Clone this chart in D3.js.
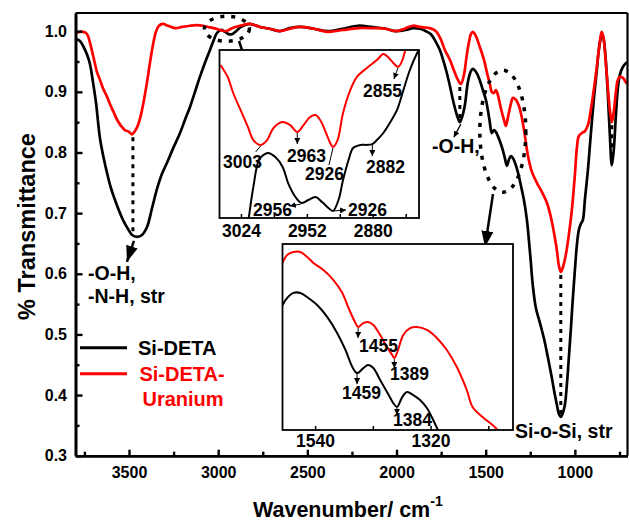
<!DOCTYPE html>
<html>
<head>
<meta charset="utf-8">
<script src="https://cdn.jsdelivr.net/npm/d3@7"></script>
<style>
  body { margin: 0; background: #fff; }
  svg { display: block; }
  text { font-family: "Liberation Sans", Arial, sans-serif; font-weight: bold; fill: #000; }
</style>
</head>
<body>
<svg id="chart" width="629" height="522"></svg>
<script>
// ---------- FTIR spectra (wavenumber in cm-1, transmittance) ----------
const detaWave = [3797,3775,3758,3736,3719,3702,3685,3663,3640,3623,3601,3579,3556,3534,3506,3483,3455,3427,3399,3371,3343,3315,3287,3254,3214,3186,3158,3130,3102,3074,3046,3024,3007,2984,2962,2940,2923,2900,2872,2822,2766,2710,2654,2598,2542,2463,2385,2301,2217,2138,2060,2004,1948,1908,1869,1835,1807,1779,1757,1735,1718,1701,1684,1667,1656,1645,1634,1617,1600,1583,1572,1555,1538,1516,1499,1488,1477,1466,1454,1443,1432,1421,1404,1393,1381,1370,1359,1348,1337,1320,1303,1286,1269,1258,1247,1236,1219,1196,1174,1152,1129,1112,1101,1090,1079,1068,1056,1045,1034,1023,1012,1000,989,978,967,955,944,927,911,894,877,866,855,849,838,827,815,804,793,782,770,759,748,731,709];
const detaT = [0.987,0.984,0.976,0.962,0.946,0.916,0.882,0.824,0.788,0.766,0.741,0.722,0.704,0.689,0.674,0.664,0.661,0.664,0.677,0.708,0.740,0.765,0.783,0.806,0.832,0.854,0.875,0.900,0.925,0.948,0.969,0.986,0.997,1.002,0.999,0.995,0.995,1.000,1.007,1.012,1.007,1.004,1.000,1.005,1.007,1.004,1.000,1.004,1.009,1.007,1.004,1.000,1.002,1.005,1.004,1.000,0.995,0.982,0.969,0.949,0.931,0.910,0.887,0.867,0.857,0.850,0.857,0.878,0.916,0.934,0.938,0.933,0.923,0.903,0.887,0.870,0.850,0.832,0.837,0.834,0.827,0.819,0.804,0.791,0.778,0.788,0.794,0.791,0.784,0.768,0.746,0.722,0.689,0.656,0.619,0.581,0.544,0.519,0.494,0.463,0.428,0.400,0.384,0.369,0.364,0.370,0.384,0.417,0.461,0.507,0.557,0.606,0.647,0.672,0.682,0.689,0.722,0.771,0.829,0.887,0.936,0.969,0.989,0.997,0.986,0.953,0.895,0.829,0.779,0.804,0.862,0.906,0.928,0.941,0.949];

const uranWave = [3797,3775,3758,3741,3730,3713,3696,3680,3663,3646,3623,3607,3584,3567,3545,3523,3500,3483,3467,3450,3433,3416,3399,3382,3366,3349,3332,3310,3282,3242,3203,3158,3119,3085,3057,3024,2990,2956,2923,2878,2822,2766,2710,2654,2598,2542,2463,2385,2301,2217,2138,2060,2004,1948,1908,1869,1813,1779,1751,1729,1701,1679,1656,1639,1622,1606,1594,1583,1572,1555,1533,1510,1494,1477,1466,1454,1443,1432,1415,1398,1387,1376,1359,1348,1331,1314,1297,1281,1264,1241,1213,1185,1157,1135,1118,1101,1090,1079,1068,1051,1034,1017,1000,989,978,961,944,927,911,894,877,866,855,849,838,827,815,804,793,782,770,759,748,731,709];
const uranT = [0.997,0.999,0.999,0.997,0.992,0.974,0.953,0.933,0.920,0.906,0.892,0.880,0.865,0.854,0.844,0.837,0.834,0.830,0.835,0.845,0.862,0.887,0.916,0.949,0.977,0.999,1.009,1.012,1.009,1.005,1.007,1.009,1.010,1.009,1.007,1.005,1.002,1.000,1.005,1.009,1.012,1.007,1.004,1.000,1.004,1.007,1.004,0.999,1.002,1.005,1.005,1.004,1.000,1.005,1.009,1.007,1.005,1.000,0.986,0.969,0.953,0.936,0.920,0.913,0.928,0.961,0.982,0.995,0.999,0.992,0.974,0.953,0.933,0.913,0.900,0.898,0.903,0.895,0.873,0.854,0.844,0.857,0.880,0.890,0.887,0.877,0.857,0.829,0.796,0.768,0.750,0.735,0.717,0.694,0.669,0.639,0.614,0.603,0.610,0.631,0.664,0.705,0.763,0.807,0.827,0.832,0.835,0.845,0.870,0.903,0.941,0.969,0.992,0.999,0.986,0.949,0.906,0.870,0.850,0.867,0.900,0.920,0.925,0.923,0.913];

// C-H stretching region (scaled transmittance, 0 = bottom of panel, 1 = top)
const chUranWave = [3047,3039,3033,3025,3017,3011,3003,2996,2989,2979,2971,2963,2956,2949,2943,2938,2932,2927,2924,2919,2913,2905,2898,2887,2876,2869,2864,2858,2853,2849,2845];
const chUranT = [0.911,0.839,0.744,0.643,0.542,0.464,0.435,0.464,0.536,0.571,0.554,0.512,0.554,0.601,0.613,0.583,0.512,0.446,0.423,0.464,0.625,0.762,0.839,0.893,0.940,0.976,0.958,0.923,0.899,0.929,1.0];
const chDetaWave = [3016,3011,3005,3000,2995,2987,2979,2973,2965,2958,2951,2943,2936,2929,2924,2918,2913,2907,2902,2894,2887,2881,2876,2869,2862,2854,2847,2840,2832,2830];
const chDetaT = [0,0.185,0.345,0.375,0.387,0.363,0.304,0.208,0.125,0.089,0.107,0.125,0.095,0.060,0.042,0.107,0.226,0.345,0.417,0.435,0.435,0.440,0.464,0.506,0.565,0.643,0.762,0.881,0.982,1.0];

// C-H bending region (scaled transmittance)
const bendUranWave = [1603,1594,1582,1569,1556,1544,1525,1506,1489,1478,1464,1459,1449,1440,1430,1417,1404,1394,1390,1383,1373,1360,1347,1328,1309,1290,1271,1252,1241,1222,1203,1193];
const bendUranT = [0.898,0.941,0.957,0.957,0.930,0.898,0.860,0.806,0.737,0.661,0.575,0.554,0.575,0.581,0.565,0.511,0.446,0.403,0.387,0.430,0.511,0.548,0.554,0.538,0.495,0.430,0.339,0.215,0.124,0.070,0.027,0];
const bendDetaWave = [1603,1594,1582,1569,1554,1537,1518,1499,1483,1470,1461,1449,1440,1430,1417,1404,1392,1385,1375,1366,1354,1341,1328,1316,1307];
const bendDetaT = [0.672,0.710,0.737,0.737,0.710,0.672,0.608,0.522,0.430,0.339,0.306,0.333,0.349,0.333,0.269,0.204,0.145,0.124,0.177,0.204,0.188,0.161,0.118,0.054,0];

// ---------- ticks and labels ----------
const xTicks = [3500, 3000, 2500, 2000, 1500, 1000];
const xMinorTicks = [3750, 3250, 2750, 2250, 1750, 1250, 750];
const yTicks = [0.3, 0.4, 0.5, 0.6, 0.7, 0.8, 0.9, 1.0];
const yMinorTicks = [0.35, 0.45, 0.55, 0.65, 0.75, 0.85, 0.95];
const chTicks = [3024, 2952, 2880];
const chMinorTicks = [2988, 2916, 2844];
const bendTicks = [1540, 1320];
const bendMinorTicks = [1430, 1210];
const markedBands = [3478, 1645, 1079, 793];
const seriesNames = ["Si-DETA", "Si-DETA-", "Uranium"];

const RED = "#ff0000";
const svg = d3.select("#chart");

const x = d3.scaleLinear().domain([3800, 705]).range([75.5, 627.5]);
const y = d3.scaleLinear().domain([0.3, 1.03]).range([455.7, 13]);

const zip = (w, t) => w.map((d, i) => [d, t[i]]);
const deta = zip(detaWave, detaT);
const uran = zip(uranWave, uranT);

// arrowhead markers
const defs = svg.append("defs");
function marker(id, len, half) {
  defs.append("marker").attr("id", id)
    .attr("markerUnits", "userSpaceOnUse")
    .attr("viewBox", `${-len} ${-half} ${len} ${half * 2}`)
    .attr("markerWidth", len).attr("markerHeight", half * 2)
    .attr("refX", 0).attr("refY", 0).attr("orient", "auto")
    .append("path").attr("d", `M0,0L${-len},${-half}L${-len},${half}Z`).attr("fill", "#000");
}
marker("bigHead", 16, 6);
marker("smallHead", 6, 3);

// ---------- main panel ----------
const main = svg.append("g");
const mainLine = d3.line().x(d => x(d[0])).y(d => y(d[1])).curve(d3.curveCatmullRom.alpha(0.5));

main.append("path").datum(deta).attr("d", mainLine)
  .attr("fill", "none").attr("stroke", "#000").attr("stroke-width", 2.7).attr("stroke-linejoin", "round");
main.append("path").datum(uran).attr("d", mainLine)
  .attr("fill", "none").attr("stroke", RED).attr("stroke-width", 2.7).attr("stroke-linejoin", "round");

// dotted guides joining matching bands of both spectra
function bandMin(series, w) {
  const near = series.filter(d => Math.abs(d[0] - w) <= 30);
  return d3.min(near, d => d[1]);
}
markedBands.forEach(w => {
  main.append("line")
    .attr("x1", x(w)).attr("x2", x(w))
    .attr("y1", y(bandMin(uran, w)) + 3).attr("y2", y(bandMin(deta, w)) - 2)
    .attr("stroke", "#000").attr("stroke-width", 3).attr("stroke-dasharray", "4 5");
});

// axes
const axisBottom = d3.axisBottom(x).tickValues(xTicks).tickSize(-6).tickSizeOuter(0).tickPadding(11).tickFormat(d3.format("d"));
const axisBottomMinor = d3.axisBottom(x).tickValues(xMinorTicks).tickSize(-4).tickSizeOuter(0).tickFormat("");
const axisLeft = d3.axisLeft(y).tickValues(yTicks).tickSize(-7).tickSizeOuter(0).tickPadding(8.5).tickFormat(d3.format(".1f"));
const axisLeftMinor = d3.axisLeft(y).tickValues(yMinorTicks).tickSize(-4).tickSizeOuter(0).tickFormat("");

function styleAxis(g) {
  g.selectAll("path.domain").attr("stroke", "#000").attr("stroke-width", 2.6);
  g.selectAll(".tick line").attr("stroke", "#000").attr("stroke-width", 2.4);
  g.selectAll(".tick text").attr("font-size", 16).attr("font-family", null).attr("fill", "#000");
}
main.append("g").attr("transform", `translate(0,${y.range()[0]})`).call(axisBottomMinor).call(styleAxis);
main.append("g").attr("transform", `translate(0,${y.range()[0]})`).call(axisBottom).call(styleAxis);
main.append("g").attr("transform", `translate(${x.range()[0]},0)`).call(axisLeftMinor).call(styleAxis);
main.append("g").attr("transform", `translate(${x.range()[0]},0)`).call(axisLeft).call(styleAxis);

// top and right frame
main.append("line").attr("x1", x.range()[0]).attr("x2", x.range()[1]).attr("y1", y.range()[1]).attr("y2", y.range()[1])
  .attr("stroke", "#000").attr("stroke-width", 2.2);
main.append("line").attr("x1", x.range()[1]).attr("x2", x.range()[1]).attr("y1", y.range()[1]).attr("y2", y.range()[0])
  .attr("stroke", "#000").attr("stroke-width", 2.2);

// axis titles
svg.append("text").attr("transform", "translate(35,226.5) rotate(-90)")
  .attr("text-anchor", "middle").attr("font-size", 23.5).text("% Transmittance");
const xt = svg.append("text").attr("x", 253).attr("y", 517).attr("font-size", 21.5).text("Wavenumber/ cm");
xt.append("tspan").attr("dy", -11).attr("font-size", 14).text("-1");

// band annotations
const ann = svg.append("g").attr("font-size", 19.5);
const x3478 = x(markedBands[0]), yOH = y(bandMin(deta, markedBands[0]));
ann.append("line").attr("x1", x3478 + 1).attr("y1", yOH + 4).attr("x2", x3478 - 6).attr("y2", yOH + 25)
  .attr("stroke", "#000").attr("stroke-width", 2.5).attr("marker-end", "url(#bigHead)");
ann.append("text").attr("x", 88).attr("y", 280).text("-O-H,");
ann.append("text").attr("x", 88).attr("y", 303).text("-N-H, str");

const x1645 = x(markedBands[1]), y1645 = y(bandMin(deta, markedBands[1]));
ann.append("line").attr("x1", x1645 + 1).attr("y1", y1645 + 2).attr("x2", x1645 - 6).attr("y2", y1645 + 15)
  .attr("stroke", "#000").attr("stroke-width", 1.2).attr("marker-end", "url(#smallHead)");
ann.append("text").attr("x", 432).attr("y", 153).text("-O-H,");
ann.append("text").attr("x", 515).attr("y", 438).text("Si-o-Si, str");

// dotted ellipses with pointers to the zoomed panels
function dottedEllipse(cx, cy, rx, ry) {
  ann.append("ellipse").attr("cx", cx).attr("cy", cy).attr("rx", rx).attr("ry", ry)
    .attr("fill", "none").attr("stroke", "#000").attr("stroke-width", 3.5).attr("stroke-dasharray", "4 7");
}
dottedEllipse(x(2951), y(1.004), 22.5, 12.5);
ann.append("line").attr("x1", 239).attr("y1", 41).attr("x2", 252).attr("y2", 80)
  .attr("stroke", "#000").attr("stroke-width", 2.5).attr("marker-end", "url(#bigHead)");
dottedEllipse(x(1404), y(0.835), 23, 61);
ann.append("line").attr("x1", 493).attr("y1", 194).attr("x2", 485).attr("y2", 247)
  .attr("stroke", "#000").attr("stroke-width", 2.5).attr("marker-end", "url(#bigHead)");

// legend
const lg = svg.append("g");
lg.append("line").attr("x1", 80).attr("x2", 127).attr("y1", 347.7).attr("y2", 347.7).attr("stroke", "#000").attr("stroke-width", 3);
lg.append("line").attr("x1", 80).attr("x2", 127).attr("y1", 373.7).attr("y2", 373.7).attr("stroke", RED).attr("stroke-width", 3);
lg.append("text").attr("x", 138).attr("y", 355).attr("font-size", 20).text(seriesNames[0]);
lg.append("text").attr("x", 182).attr("y", 381).attr("text-anchor", "middle").attr("font-size", 20).style("fill", RED).text(seriesNames[1]);
lg.append("text").attr("x", 183).attr("y", 406).attr("text-anchor", "middle").attr("font-size", 20).style("fill", RED).text(seriesNames[2]);

// ---------- zoomed panels ----------
function panel(id, xs, ys, ticks, minor, labelY, curves) {
  const [x0, x1] = xs.range();
  const [yb, yt] = ys.range();
  const g = svg.append("g");
  g.append("rect").attr("x", x0).attr("y", yt).attr("width", x1 - x0).attr("height", yb - yt).attr("fill", "#fff");
  defs.append("clipPath").attr("id", id).append("rect").attr("x", x0).attr("y", yt).attr("width", x1 - x0).attr("height", yb - yt);
  const line = d3.line().x(d => xs(d[0])).y(d => ys(d[1])).curve(d3.curveCatmullRom.alpha(0.5));
  const cg = g.append("g").attr("clip-path", `url(#${id})`);
  curves.forEach(c => cg.append("path").datum(c.data).attr("d", line)
    .attr("fill", "none").attr("stroke", c.color).attr("stroke-width", 2).attr("stroke-linejoin", "round"));
  g.append("rect").attr("x", x0).attr("y", yt).attr("width", x1 - x0).attr("height", yb - yt)
    .attr("fill", "none").attr("stroke", "#000").attr("stroke-width", 1.8);
  ticks.concat(minor).forEach(t => g.append("line").attr("x1", xs(t)).attr("x2", xs(t)).attr("y1", yb).attr("y2", yb - 4)
    .attr("stroke", "#000").attr("stroke-width", 1.5));
  ticks.forEach(t => g.append("text").attr("x", xs(t)).attr("y", labelY).attr("text-anchor", "middle")
    .attr("font-size", 17.5).text(t));
  return g;
}

const xCH = d3.scaleLinear().domain([3048, 2830]).range([219.5, 419]);
const yCH = d3.scaleLinear().domain([0, 1]).range([218, 50]);
const chPanel = panel("clipCH", xCH, yCH, chTicks, chMinorTicks, 237, [
  { data: zip(chDetaWave, chDetaT), color: "#000" },
  { data: zip(chUranWave, chUranT), color: RED }
]);

const xB = d3.scaleLinear().domain([1603, 1164]).range([282.5, 513]);
const yB = d3.scaleLinear().domain([0, 1]).range([430, 244]);
const bPanel = panel("clipB", xB, yB, bendTicks, bendMinorTicks, 447, [
  { data: zip(bendDetaWave, bendDetaT), color: "#000" },
  { data: zip(bendUranWave, bendUranT), color: RED }
]);

// peak labels inside the zoomed panels
function pointer(g, x1, y1, x2, y2, head) {
  const l = g.append("line").attr("x1", x1).attr("y1", y1).attr("x2", x2).attr("y2", y2)
    .attr("stroke", "#000").attr("stroke-width", 1);
  if (head) l.attr("marker-end", "url(#smallHead)");
}
function label(g, tx, ty, s) {
  g.append("text").attr("x", tx).attr("y", ty).attr("font-size", 17.5).text(s);
}
const valAt = (w, t, k) => t[w.indexOf(k)];

// C-H stretching labels
pointer(chPanel, xCH(3003) - 5, yCH(valAt(chUranWave, chUranT, 3003)) + 7, xCH(3003), yCH(valAt(chUranWave, chUranT, 3003)) + 1, false);
label(chPanel, 223, 168, "3003");
pointer(chPanel, xCH(2963), yCH(valAt(chUranWave, chUranT, 2963)) + 1, xCH(2963), yCH(valAt(chUranWave, chUranT, 2963)) + 12, true);
label(chPanel, 287, 162, "2963");
pointer(chPanel, xCH(2924), yCH(valAt(chUranWave, chUranT, 2924)) + 1, xCH(2924) - 4, yCH(valAt(chUranWave, chUranT, 2924)) + 18, false);
label(chPanel, 305, 180, "2926");
pointer(chPanel, xCH(2853), yCH(valAt(chUranWave, chUranT, 2853)) + 1, xCH(2853) - 4, yCH(valAt(chUranWave, chUranT, 2853)) + 12, true);
label(chPanel, 363, 97, "2855");
pointer(chPanel, xCH(2881), yCH(valAt(chDetaWave, chDetaT, 2881)) + 1, xCH(2881), yCH(valAt(chDetaWave, chDetaT, 2881)) + 12, true);
label(chPanel, 366, 173, "2882");
pointer(chPanel, xCH(2958) - 1, yCH(valAt(chDetaWave, chDetaT, 2958)) + 1, xCH(2958) - 12, yCH(valAt(chDetaWave, chDetaT, 2958)) + 3, true);
label(chPanel, 253, 216, "2956");
pointer(chPanel, xCH(2924) + 1, yCH(valAt(chDetaWave, chDetaT, 2924)), xCH(2924) + 13, yCH(valAt(chDetaWave, chDetaT, 2924)) - 1, true);
label(chPanel, 348, 216, "2926");

// C-H bending labels
pointer(bPanel, xB(1459), yB(valAt(bendUranWave, bendUranT, 1459)) + 1, xB(1459), yB(valAt(bendUranWave, bendUranT, 1459)) + 11, true);
label(bPanel, 359, 352, "1455");
pointer(bPanel, xB(1390), yB(valAt(bendUranWave, bendUranT, 1390)) + 1, xB(1390), yB(valAt(bendUranWave, bendUranT, 1390)) + 10, true);
label(bPanel, 390, 380, "1389");
pointer(bPanel, xB(1461), yB(valAt(bendDetaWave, bendDetaT, 1461)) + 1, xB(1461), yB(valAt(bendDetaWave, bendDetaT, 1461)) + 11, true);
label(bPanel, 342, 399, "1459");
pointer(bPanel, xB(1385), yB(valAt(bendDetaWave, bendDetaT, 1385)) + 1, xB(1385), yB(valAt(bendDetaWave, bendDetaT, 1385)) + 8, true);
label(bPanel, 393, 426, "1384");
</script>
</body>
</html>
